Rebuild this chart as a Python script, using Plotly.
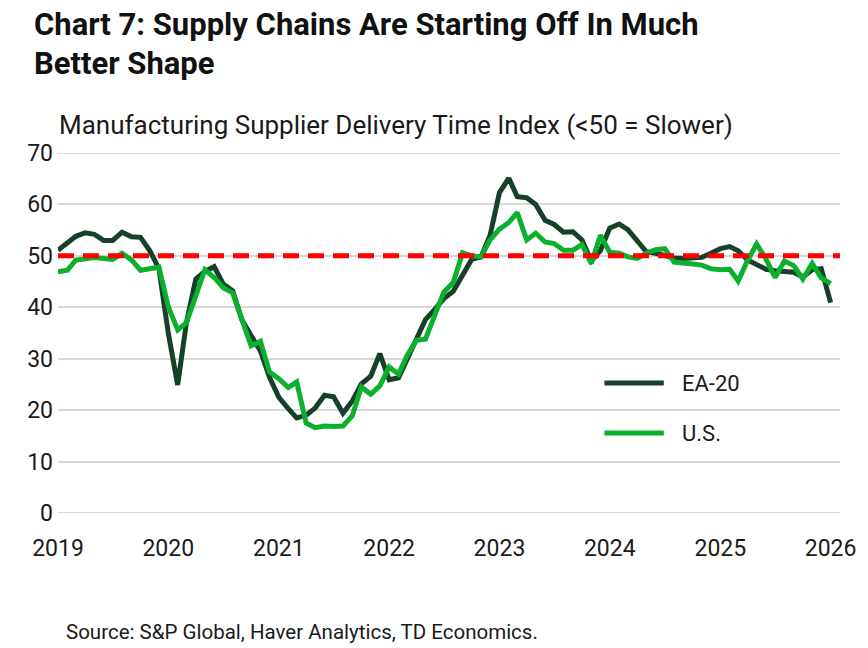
import pandas as pd
import plotly.graph_objects as go

months = pd.date_range("2019-01-01", periods=85, freq="MS")

ea20 = [51.1, 52.4, 53.8, 54.5, 54.2, 53.0, 53.0, 54.6, 53.7, 53.6, 51.0, 47.5,
        35.0, 24.9, 37.0, 45.5, 47.0, 47.9, 44.5, 43.2, 37.5, 34.5, 31.5, 26.4,
        22.5, 20.3, 18.5, 19.0, 20.4, 22.9, 22.6, 19.4, 21.8, 25.1, 26.6, 31.0,
        25.9, 26.3, 30.0, 34.1, 37.6, 39.6, 41.7, 43.1, 46.2, 49.3, 49.8, 54.0,
        62.3, 65.1, 61.5, 61.3, 60.0, 56.9, 56.1, 54.6, 54.7, 53.1, 49.0, 51.0,
        55.4, 56.2, 55.1, 52.9, 50.8, 50.5, 50.1, 49.6, 49.5, 49.5, 49.7, 50.5,
        51.4, 51.8, 51.0, 49.2, 48.2, 47.4, 47.1, 47.0, 46.8, 45.9, 47.3, 47.5,
        40.9]

us = [46.9, 47.2, 49.2, 49.5, 49.7, 49.5, 49.3, 50.5, 49.2, 47.2, 47.6, 47.8,
      40.1, 35.6, 37.0, 42.5, 47.3, 45.8, 43.8, 42.8, 37.3, 32.5, 33.4, 27.4,
      26.1, 24.4, 25.5, 17.5, 16.6, 16.9, 16.8, 16.9, 18.9, 24.5, 23.1, 24.7,
      28.4, 27.0, 30.6, 33.6, 33.8, 38.3, 43.0, 44.8, 50.6, 50.0, 49.8, 53.1,
      55.2, 56.5, 58.4, 53.1, 54.4, 52.7, 52.4, 51.1, 51.1, 52.2, 48.5, 54.0,
      50.7, 50.5, 49.8, 49.5, 50.5, 51.2, 51.4, 48.8, 48.5, 48.4, 48.2, 47.5,
      47.3, 47.4, 45.1, 49.1, 52.3, 49.4, 45.8, 49.0, 48.1, 45.5, 48.5, 45.7,
      44.6]

series_names = ["EA-20", "U.S."]
threshold = 50
y_ticks = [0, 10, 20, 30, 40, 50, 60, 70]

title_lines = ["Chart 7: Supply Chains Are Starting Off In Much", "Better Shape"]
subtitle_text = "Manufacturing Supplier Delivery Time Index (<50 = Slower)"
source_text = "Source: S&P Global, Haver Analytics, TD Economics."

DARK = "#17402A"
GREEN = "#0BB02C"
GRID = "#D9D9D9"
FONT = "Roboto"
TXT = "#1a1a1a"

# plot area in pixels
L, R, T, B = 58, 848, 153, 513
W, H = R - L, B - T


def px(x):
    return (x - L) / W


def py(y):
    return (B - y) / H


fig = go.Figure()
fig.add_trace(go.Scatter(x=months, y=ea20, mode="lines", name=series_names[0],
                         line=dict(color=DARK, width=5)))
fig.add_trace(go.Scatter(x=months, y=us, mode="lines", name=series_names[1],
                         line=dict(color=GREEN, width=5)))

# edge gridlines (plotly skips gridlines lying exactly on the plot edges)
for yv in (y_ticks[0], y_ticks[-1]):
    fig.add_hline(y=yv, layer="below", line=dict(color=GRID, width=2))

fig.add_hline(y=threshold, line=dict(color="#FF0000", width=5, dash="16px,9px"))

fig.update_layout(
    width=868, height=648,
    margin=dict(l=L, r=868 - R, t=T, b=648 - B),
    paper_bgcolor="white", plot_bgcolor="white",
    font=dict(family=FONT, color=TXT, size=21),
    showlegend=False,
    xaxis=dict(type="date", range=["2019-01-01", "2026-02-01"],
               tick0="2019-01-01", dtick="M12", tickformat="%Y",
               showgrid=False, zeroline=False, showline=False, ticks="",
               tickfont=dict(size=23), ticklabelstandoff=19),
    yaxis=dict(range=[0, 70], tickvals=y_ticks, showgrid=True,
               gridcolor=GRID, gridwidth=2, zeroline=False,
               showline=False, ticks="", tickfont=dict(size=23),
               ticklabelstandoff=4),
)

# title (two lines)
for text, yc in zip(title_lines, [25, 63]):
    fig.add_annotation(text="<b>" + text + "</b>", xref="paper", yref="paper",
                       x=px(32), y=py(yc), xanchor="left", yanchor="middle",
                       showarrow=False,
                       font=dict(family=FONT, size=31, color="#111111"))

fig.add_annotation(text=subtitle_text, xref="paper", yref="paper",
                   x=px(57), y=py(125), xanchor="left", yanchor="middle",
                   showarrow=False, font=dict(size=26, color=TXT))

fig.add_annotation(text=source_text, xref="paper", yref="paper",
                   x=px(64), y=py(632), xanchor="left", yanchor="middle",
                   showarrow=False, font=dict(size=20.5, color=TXT))

# legend drawn manually
for name, color, yc in zip(series_names, [DARK, GREEN], [383, 433]):
    fig.add_shape(type="line", xref="paper", yref="paper",
                  x0=px(610), x1=px(670), y0=py(yc), y1=py(yc),
                  line=dict(color=color, width=5))
    fig.add_annotation(text=name, xref="paper", yref="paper",
                       x=px(686), y=py(yc), xanchor="left", yanchor="middle",
                       showarrow=False, font=dict(size=22, color=TXT))

fig.write_html("out.html", config={"displayModeBar": False},
               post_script="document.body.style.margin='0';")
